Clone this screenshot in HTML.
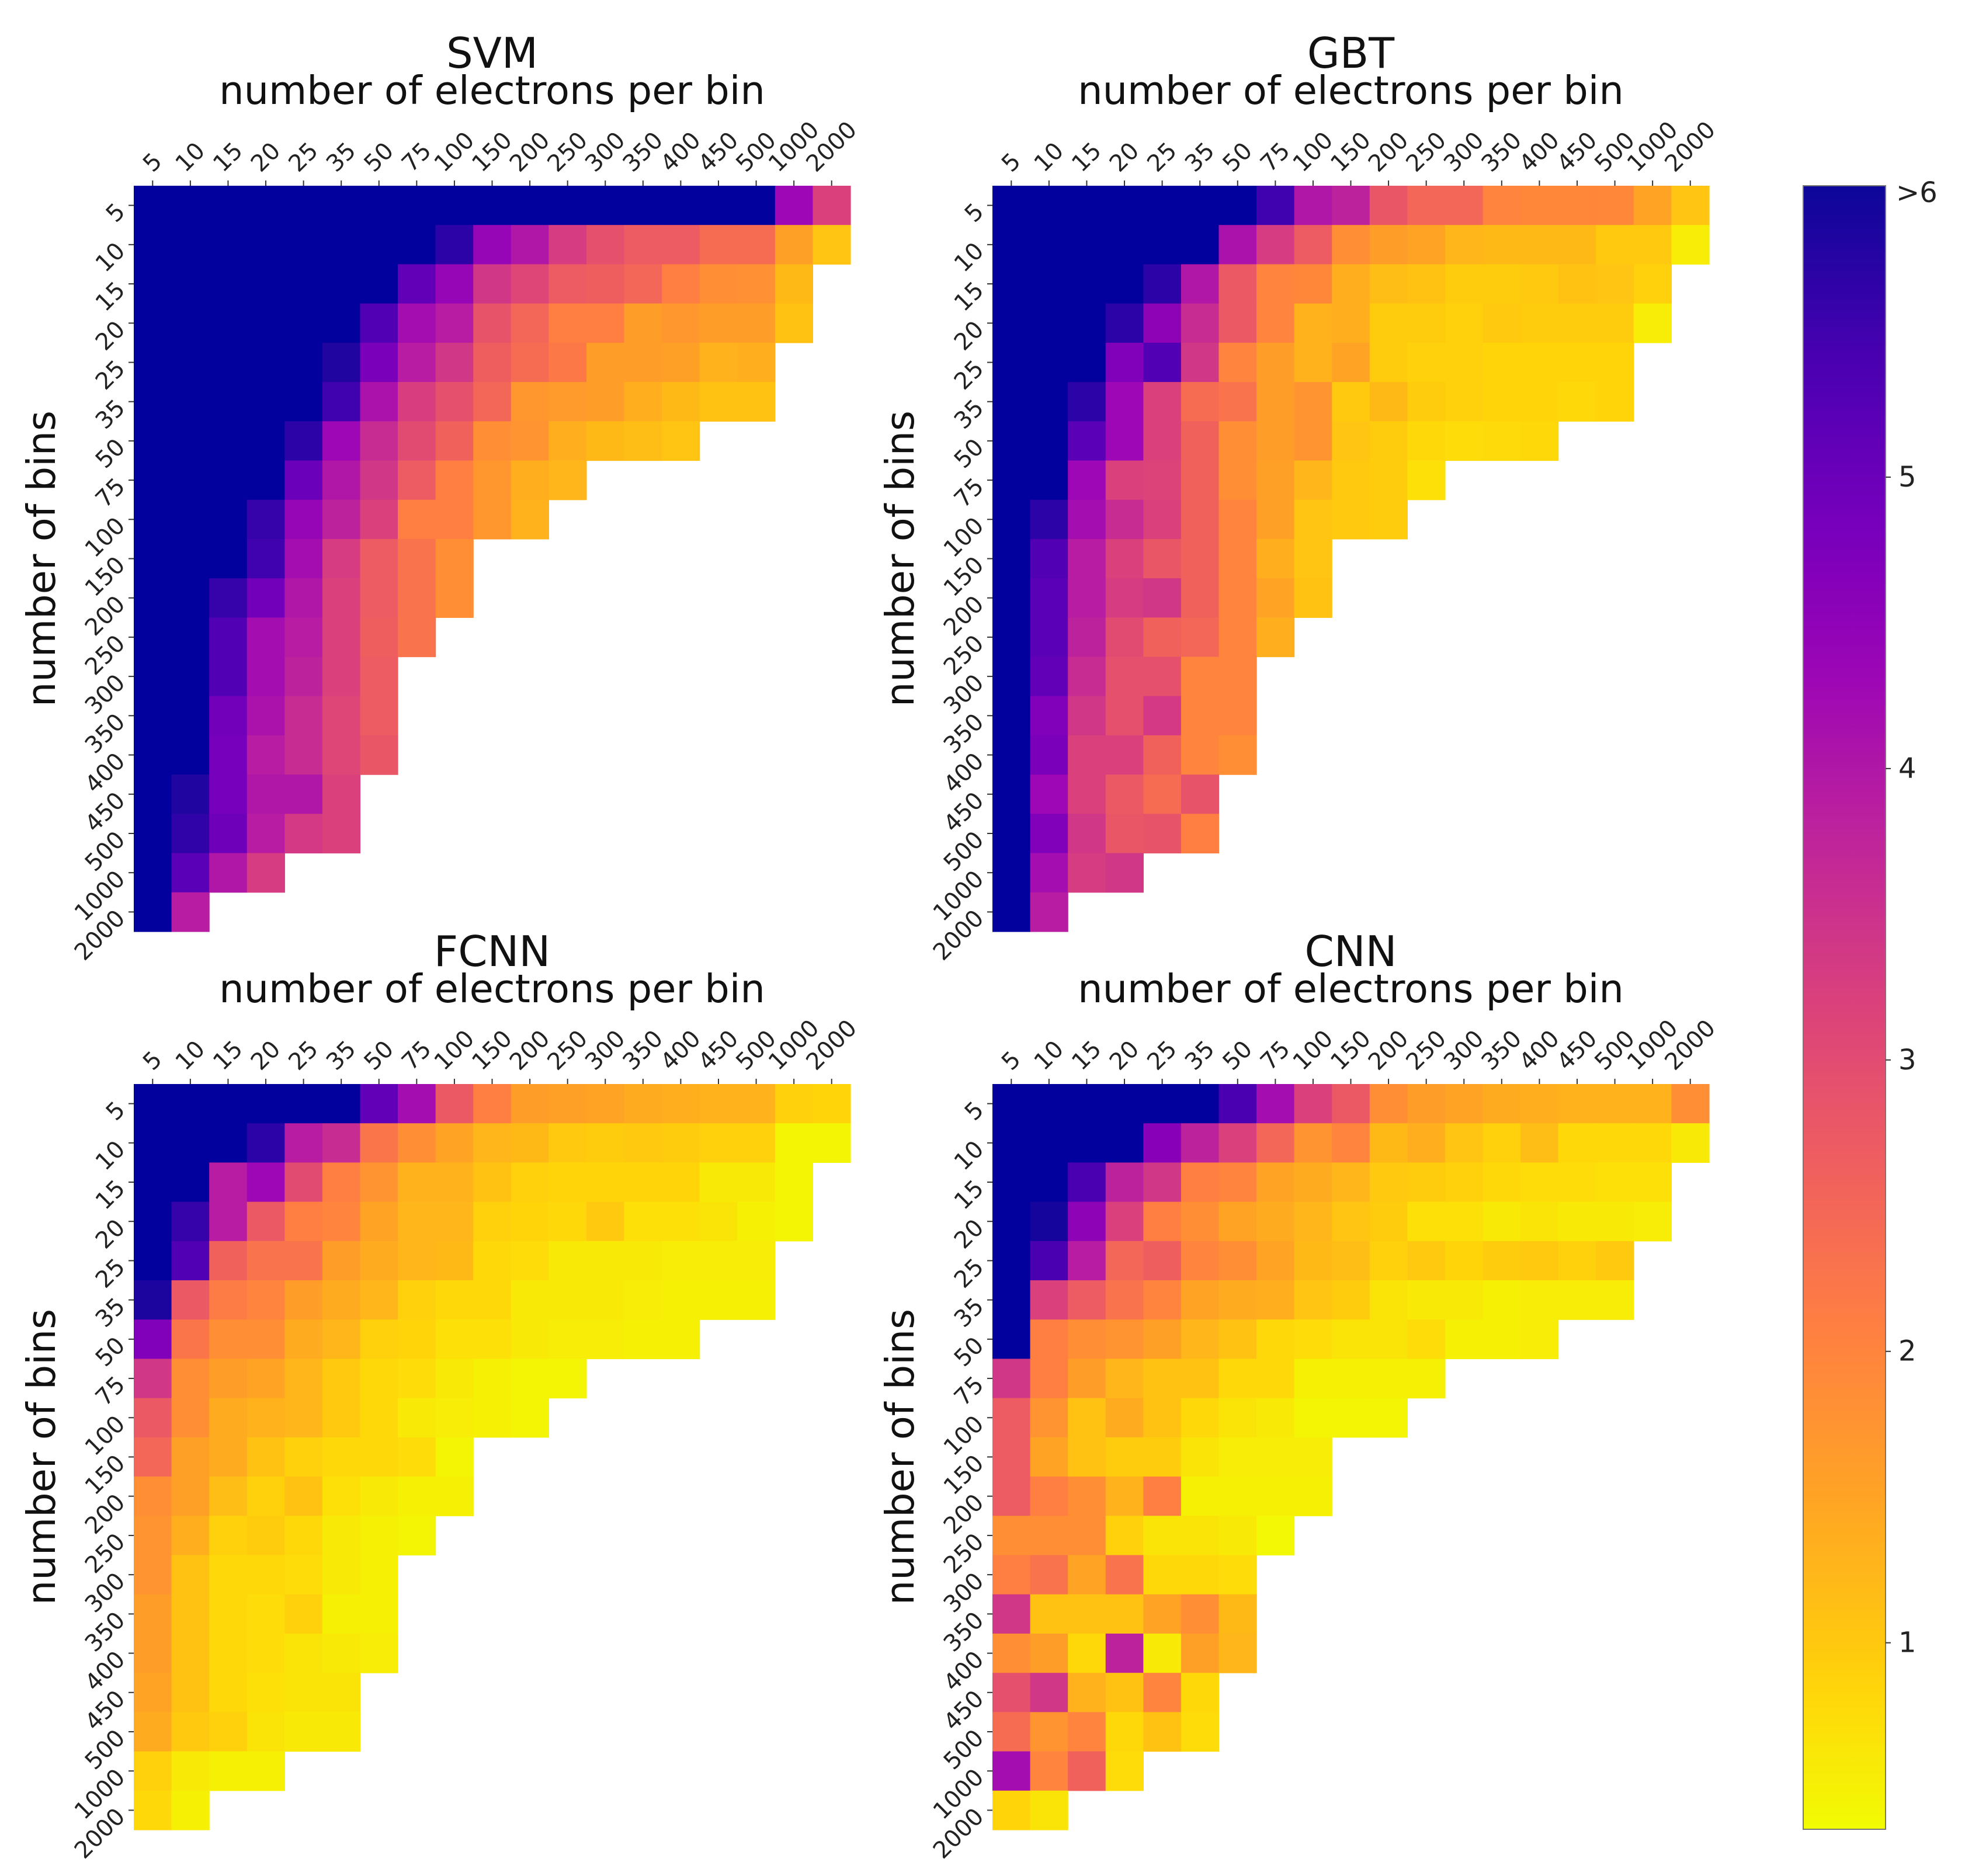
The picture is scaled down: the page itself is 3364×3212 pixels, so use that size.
<!DOCTYPE html>
<html><head><meta charset="utf-8"><style>
html,body{margin:0;padding:0;background:#fff;}
svg{display:block;font-family:"DejaVu Sans","Liberation Sans",sans-serif;}
</style></head><body>
<svg id="fig" width="3364" height="3212" viewBox="0 0 3364 3212" xmlns="http://www.w3.org/2000/svg">
<defs><linearGradient id="cbgrad" x1="0" y1="1" x2="0" y2="0"></linearGradient></defs>
</svg>
<script>
const electronLabels = ["5","10","15","20","25","35","50","75","100","150","200","250","300","350","400","450","500","1000","2000"];
const binLabels = ["5","10","15","20","25","35","50","75","100","150","200","250","300","350","400","450","500","1000","2000"];
const colorbarTicks = [1,2,3,4,5];
const vMin = 0.36, vMax = 6;

const svmValues = [
[7,7,7,7,7,7,7,7,7,7,7,7,7,7,7,7,7,4.3,3.2],
[7,7,7,7,7,7,7,7,5.7,4.4,4.0,3.3,2.9,2.7,2.7,2.4,2.4,1.55,1.05],
[7,7,7,7,7,7,7,5.1,4.4,3.4,3.1,2.7,2.65,2.5,2.1,1.85,1.8,1.2],
[7,7,7,7,7,7,5.3,4.2,3.9,2.85,2.5,2.1,2.1,1.6,1.7,1.6,1.6,1.1],
[7,7,7,7,7,5.8,4.8,3.9,3.4,2.65,2.4,2.2,1.6,1.6,1.55,1.3,1.35],
[7,7,7,7,7,5.5,4.1,3.25,2.9,2.5,1.7,1.65,1.6,1.35,1.2,1.1,1.1],
[7,7,7,7,5.7,4.3,3.6,3.0,2.6,1.85,1.75,1.35,1.2,1.15,1.05],
[7,7,7,7,5.0,4.0,3.4,2.7,2.1,1.7,1.35,1.25],
[7,7,7,5.6,4.4,3.8,3.2,2.1,2.1,1.7,1.3],
[7,7,7,5.5,4.2,3.3,2.7,2.3,1.85],
[7,7,5.6,4.9,4.0,3.2,2.7,2.3,1.85],
[7,7,5.3,4.2,3.9,3.2,2.65,2.3],
[7,7,5.3,4.2,3.8,3.2,2.7],
[7,7,4.9,4.1,3.6,3.1,2.7],
[7,7,4.85,3.9,3.6,3.1,2.8],
[7,5.8,4.85,4.0,4.0,3.2],
[7,5.65,4.95,3.9,3.35,3.2],
[7,5.2,4.0,3.3],
[7,3.9]];

const gbtValues = [
[7,7,7,7,7,7,7,5.5,4.0,3.8,2.8,2.5,2.5,2.0,1.95,1.95,1.95,1.5,1.05],
[7,7,7,7,7,7,4.1,3.3,2.7,1.85,1.6,1.5,1.25,1.2,1.2,1.2,1.0,1.0,0.55],
[7,7,7,7,5.7,4.0,2.75,2.0,1.95,1.35,1.15,1.1,0.95,0.95,1.0,1.1,1.05,0.9],
[7,7,7,5.7,4.5,3.6,2.75,2.0,1.3,1.35,0.95,0.95,0.9,1.0,0.95,0.95,0.95,0.55],
[7,7,7,4.7,5.3,3.4,2.0,1.6,1.3,1.5,0.95,0.9,0.9,0.85,0.85,0.85,0.85],
[7,7,5.7,4.3,3.2,2.4,2.3,1.6,1.75,1.0,1.2,0.95,0.9,0.85,0.85,0.8,0.85],
[7,7,5.2,4.3,3.2,2.6,1.85,1.6,1.75,1.05,0.95,0.8,0.75,0.78,0.8],
[7,7,4.3,3.2,3.15,2.6,1.85,1.55,1.25,1.0,0.95,0.7],
[7,5.7,4.2,3.6,3.2,2.6,2.0,1.55,1.05,1.0,0.95],
[7,5.3,3.9,3.2,2.8,2.6,2.0,1.35,1.05],
[7,5.2,3.9,3.3,3.4,2.6,2.0,1.5,1.1],
[7,5.2,3.8,3.0,2.6,2.5,2.0,1.35],
[7,5.1,3.6,2.9,2.9,2.0,2.0],
[7,4.7,3.4,2.9,3.35,2.0,2.0],
[7,4.8,3.2,3.2,2.6,2.0,1.85],
[7,4.3,3.2,2.75,2.4,2.85],
[7,4.7,3.4,2.8,2.85,2.1],
[7,4.2,3.3,3.4],
[7,3.9]];

const fcnnValues = [
[7,7,7,7,7,7,5.1,4.2,2.75,2.1,1.6,1.55,1.5,1.4,1.35,1.3,1.3,0.9,0.85],
[7,7,7,5.7,3.9,3.6,2.25,1.85,1.5,1.25,1.2,1.0,0.95,1.0,0.95,0.9,0.9,0.45,0.45],
[7,7,3.9,4.3,3.0,2.1,1.75,1.3,1.3,1.1,0.9,0.85,0.85,0.85,0.85,0.6,0.6,0.45],
[7,5.6,3.9,2.75,2.1,2.0,1.5,1.25,1.25,0.9,0.85,0.8,1.0,0.7,0.7,0.65,0.5,0.45],
[7,5.3,2.6,2.3,2.3,1.6,1.4,1.25,1.2,0.8,0.75,0.6,0.6,0.6,0.55,0.55,0.55],
[5.85,2.75,2.15,2.0,1.6,1.4,1.25,0.9,0.8,0.8,0.6,0.6,0.6,0.55,0.5,0.5,0.5],
[4.7,2.25,1.85,1.85,1.4,1.25,0.9,0.85,0.7,0.7,0.6,0.55,0.55,0.5,0.5],
[3.4,1.85,1.6,1.5,1.25,1.0,0.8,0.75,0.6,0.5,0.45,0.45],
[2.75,1.85,1.4,1.3,1.25,1.0,0.8,0.6,0.55,0.5,0.45],
[2.5,1.55,1.4,1.1,0.9,0.8,0.8,0.75,0.45],
[1.85,1.55,1.15,0.9,1.1,0.7,0.6,0.5,0.5],
[1.75,1.35,0.9,0.95,0.8,0.6,0.5,0.45],
[1.75,1.1,0.8,0.8,0.75,0.6,0.5],
[1.6,1.1,0.8,0.75,0.9,0.5,0.5],
[1.6,1.1,0.8,0.75,0.65,0.6,0.55],
[1.5,1.1,0.8,0.7,0.65,0.65],
[1.4,1.0,0.9,0.65,0.6,0.6],
[0.9,0.6,0.5,0.5],
[0.8,0.5]];

const cnnValues = [
[7,7,7,7,7,7,5.4,4.2,3.2,2.75,1.85,1.6,1.5,1.4,1.35,1.3,1.3,1.3,1.85],
[7,7,7,7,4.6,3.8,3.2,2.5,1.75,2.0,1.2,1.35,1.05,0.9,1.15,0.8,0.8,0.8,0.6],
[7,7,5.4,3.8,3.4,2.1,2.0,1.5,1.4,1.25,1.0,0.95,0.9,0.8,0.75,0.75,0.7,0.7],
[7,5.9,4.5,3.2,2.1,1.85,1.5,1.4,1.25,1.05,0.95,0.7,0.7,0.6,0.65,0.6,0.6,0.55],
[7,5.4,3.9,2.5,2.65,2.0,1.85,1.5,1.2,1.15,0.9,1.0,0.85,0.95,1.0,0.9,1.0],
[7,3.2,2.7,2.3,2.0,1.5,1.4,1.35,1.05,0.95,0.65,0.6,0.6,0.5,0.55,0.55,0.55],
[7,2.1,1.85,1.75,1.55,1.25,1.1,0.8,0.75,0.65,0.65,0.75,0.5,0.5,0.55],
[3.4,2.1,1.6,1.25,1.1,1.1,0.8,0.8,0.5,0.5,0.5,0.5],
[2.7,1.75,1.1,1.4,1.1,0.8,0.65,0.6,0.45,0.45,0.45],
[2.7,1.5,1.1,0.95,0.95,0.65,0.55,0.55,0.55],
[2.7,2.1,1.85,1.3,2.1,0.5,0.5,0.5,0.5],
[1.85,1.85,1.85,0.9,0.65,0.65,0.6,0.4],
[2.1,2.3,1.5,2.3,0.8,0.8,0.75],
[3.4,1.1,1.1,1.1,1.5,1.85,1.2],
[1.85,1.6,0.8,3.8,0.6,1.55,1.25],
[2.9,3.4,1.3,1.1,2.0,0.8],
[2.4,1.75,2.0,0.8,1.1,0.75],
[4.2,2.0,2.6,0.75],
[0.85,0.65]];

const NS = "http://www.w3.org/2000/svg";
const svg = document.getElementById('fig');
const plasmaStops = ["#0d0887","#41049d","#6a00a8","#8f0da4","#b12a90","#cc4778","#e16462","#f2844b","#fca636","#fcce25","#f0f921"];
function hex(h){return [parseInt(h.slice(1,3),16),parseInt(h.slice(3,5),16),parseInt(h.slice(5,7),16)];}
function plasma(p){
  p=Math.max(0,Math.min(1,p));
  const f=p*10, i=Math.min(9,Math.floor(f)), t=f-i;
  const a=hex(plasmaStops[i]), b=hex(plasmaStops[i+1]);
  return 'rgb('+a.map((v,k)=>Math.round(v+(b[k]-v)*t)).join(',')+')';
}
function colorOf(v){ if(v>vMax) return '#04038b'; return plasma(1-(v-vMin)/(vMax-vMin)); }

function mk(tag, attrs, parent){
  const el=document.createElementNS(NS,tag);
  for(const k in attrs) el.setAttribute(k,attrs[k]);
  (parent||svg).appendChild(el);
  return el;
}

const panels = [
  {name:'svm', title:'SVM', values:svmValues, x0:229, y0:318},
  {name:'gbt', title:'GBT', values:gbtValues, x0:1699, y0:318},
  {name:'fcnn', title:'FCNN', values:fcnnValues, x0:229, y0:1856},
  {name:'cnn', title:'CNN', values:cnnValues, x0:1699, y0:1856}
];
const W=1227, H=1277;

panels.forEach(p=>{
  const g=mk('g',{});
  
  
  const cells=mk('g',{style:'filter:saturate(1.15)'},g);
  const cw=W/electronLabels.length, ch=H/binLabels.length;
  const xScale = i => p.x0 + i*cw;
  const yScale = j => p.y0 + j*ch;
  p.values.forEach((row,j)=>{
    row.forEach((v,i)=>{
      const r=mk('rect',{x:xScale(i).toFixed(2),y:yScale(j).toFixed(2),width:(cw+0.6).toFixed(2),height:(ch+0.6).toFixed(2),fill:colorOf(v)},cells);
      
      
    });
  });
  const cx=p.x0+W/2;
  const t=mk('text',{x:cx,y:p.y0-202,'text-anchor':'middle','font-size':72,fill:'#111'},g);
  t.textContent=p.title;
  
  
  const st=mk('text',{x:cx,y:p.y0-140,'text-anchor':'middle','font-size':67,fill:'#111'},g);
  st.textContent='number of electrons per bin';
  
  
  const yl=mk('text',{x:0,y:0,'text-anchor':'middle','font-size':67,fill:'#111',transform:'translate('+(p.x0-135)+','+(p.y0+H/2)+') rotate(-90)'},g);
  yl.textContent='number of bins';
  
  
  electronLabels.forEach((lab,i)=>{
    const x=xScale(i)+cw/2;
    mk('line',{x1:x,y1:p.y0,x2:x,y2:p.y0-9,stroke:'#333','stroke-width':2},g);
    const tx=mk('text',{x:0,y:0,'font-size':40,fill:'#222','text-anchor':'middle','dominant-baseline':'central'},g);
    tx.textContent=lab;
    
    
    const L=lab.length*40*0.636, h=30;
    const bb=(L+h)/Math.SQRT2;
    tx.setAttribute('transform','translate('+x+','+(p.y0-20-bb/2)+') rotate(-45)');
  });
  binLabels.forEach((lab,j)=>{
    const y=yScale(j)+ch/2;
    mk('line',{x1:p.x0,y1:y,x2:p.x0-9,y2:y,stroke:'#333','stroke-width':2},g);
    const ty=mk('text',{x:0,y:0,'font-size':40,fill:'#222','text-anchor':'end','dominant-baseline':'central'},g);
    ty.textContent=lab;
    
    
    ty.setAttribute('transform','translate('+(p.x0-22)+','+(y+4)+') rotate(-45)');
  });
});

const grad=document.getElementById('cbgrad');
for(let k=0;k<=40;k++){
  mk('stop',{offset:(k/40),'stop-color':plasma(1-k/40)},grad);
}
const cbX=3087, cbY=318, cbW=141, cbH=2814;
const cbScale = v => cbY + (vMax-v)/(vMax-vMin)*cbH;
const cb=mk('rect',{x:cbX,y:cbY,width:cbW,height:cbH,fill:'url(#cbgrad)',stroke:'#777','stroke-width':2,style:'filter:saturate(1.15)'});


colorbarTicks.forEach(v=>{
  const y=cbScale(v);
  mk('line',{x1:cbX+cbW,y1:y,x2:cbX+cbW+9,y2:y,stroke:'#333','stroke-width':2});
  const t=mk('text',{x:cbX+cbW+22,y:y,'font-size':48,fill:'#222','dominant-baseline':'central'});
  t.textContent=String(v);
  
  
});
const top6=mk('text',{x:cbX+cbW+18,y:cbY+12,'font-size':48,fill:'#222','dominant-baseline':'central'});
top6.textContent='>6';


</script>
</body></html>
